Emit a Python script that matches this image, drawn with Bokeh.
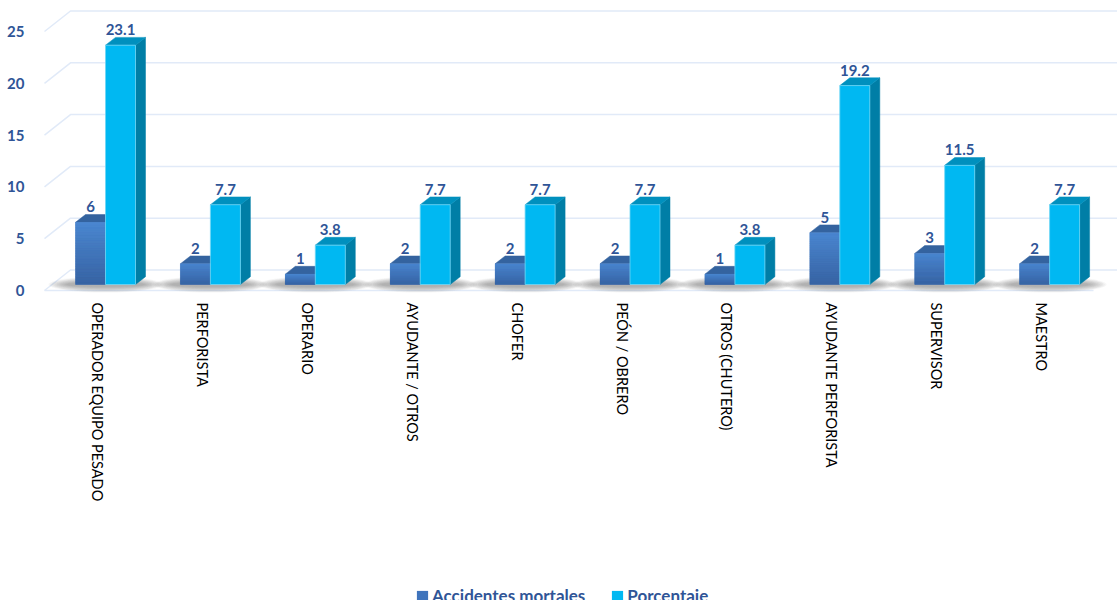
import math
from bokeh.plotting import figure
from bokeh.layouts import column
from bokeh.embed import file_html
from bokeh.resources import INLINE
from bokeh.core.properties import value
from bokeh.models import FixedTicker, Legend, LegendItem

categories = ["OPERADOR EQUIPO PESADO", "PERFORISTA", "OPERARIO", "AYUDANTE / OTROS", "CHOFER",
              "PEÓN / OBRERO", "OTROS (CHUTERO)", "AYUDANTE PERFORISTA", "SUPERVISOR", "MAESTRO"]
accidentes = [6, 2, 1, 2, 2, 2, 1, 5, 3, 2]
porcentaje = [23.1, 7.7, 3.8, 7.7, 7.7, 7.7, 3.8, 19.2, 11.5, 7.7]
acc_labels = ["6", "2", "1", "2", "2", "2", "1", "5", "3", "2"]
por_labels = ["23.1", "7.7", "3.8", "7.7", "7.7", "7.7", "3.8", "19.2", "11.5", "7.7"]
y_ticks = [0, 5, 10, 15, 20, 25]
series_names = ["Accidentes mortales", "Porcentaje"]

# pixel scales of the two axes
PX_X = 104.9
PX_Y = 10.36
FRAME_L, FRAME_R, FRAME_T, FRAME_B = 38, 1117, 0, 296
ORIGIN_X, ORIGIN_Y = 97, 290
ux = 1 / PX_X
uy = 1 / PX_Y

TEXT_BLUE = "#2F5597"
LABEL_FONT = value("Lato")
BLUE_MID = "#3F74BC"
CYAN = "#00B8F2"

p = figure(width=1117, height=512, frame_width=FRAME_R - FRAME_L, frame_height=FRAME_B - FRAME_T,
           x_range=((FRAME_L - ORIGIN_X) * ux, (FRAME_R - ORIGIN_X) * ux),
           y_range=((ORIGIN_Y - FRAME_B) * uy, (ORIGIN_Y - FRAME_T) * uy),
           output_backend="svg", toolbar_location=None,
           min_border_left=FRAME_L, min_border_top=0, min_border_right=0, min_border_bottom=0,
           outline_line_color=None, background_fill_color="white", border_fill_color="white")
p.grid.visible = False

# axes
p.xaxis.ticker = FixedTicker(ticks=list(range(len(categories))))
p.xaxis.major_label_overrides = {i: c for i, c in enumerate(categories)}
p.xaxis.major_label_orientation = -math.pi / 2
p.xaxis.major_label_text_font = "Lato"
p.xaxis.major_label_text_font_size = "14.5px"
p.xaxis.major_label_text_color = "#000000"
p.xaxis.major_label_standoff = 0
p.yaxis.ticker = FixedTicker(ticks=y_ticks)
p.yaxis.major_label_text_font = "Lato"
p.yaxis.major_label_text_font_style = "bold"
p.yaxis.major_label_text_font_size = "15px"
p.yaxis.major_label_text_color = TEXT_BLUE
p.yaxis.major_label_standoff = 8
for ax in (p.xaxis, p.yaxis):
    ax.axis_line_color = None
    ax.major_tick_line_color = None
    ax.minor_tick_line_color = None

# 3D wall lines: front-left corner, back-left corner, then on to the right edge
x_front = (44 - ORIGIN_X) * ux
x_back = (70 - ORIGIN_X) * ux
x_end = (FRAME_R - ORIGIN_X) * ux
wall_dy = 20.5 * uy
p.multi_line(xs=[[x_front, x_back, x_end] for _ in y_ticks],
             ys=[[t, t + wall_dy, t + wall_dy] for t in y_ticks],
             line_color="#E1EAF8", line_width=1.5)
p.line(x=[x_front, (1093 - ORIGIN_X) * ux], y=[0, 0], line_color="#E1EAF8", line_width=1.5)

n = len(categories)
bar_shift = 8 * ux
bar_w = 30 * ux
base = 6 * uy
dx = 10 * ux
dy = 7.8 * uy

# floor shadows
layers = 12
for k in range(layers):
    f = k / (layers - 1)
    p.ellipse(x=[i + bar_shift for i in range(n)], y=[base] * n,
              width=(114 - 36 * f) * ux, height=(16 - 11 * f) * uy,
              fill_color="#666666", fill_alpha=0.05, line_color=None)

xc = [i + bar_shift for i in range(n)]
tops_a = [v + base for v in accidentes]
tops_p = [v + base for v in porcentaje]

# Accidentes mortales: top face, solid backing, front with vertical gradient
p.patches(xs=[[x - bar_w, x, x + dx, x - bar_w + dx] for x in xc],
          ys=[[t, t, t + dy, t + dy] for t in tops_a],
          fill_color="#34639F", line_color="#34639F", line_width=0.5)
p.quad(left=[x - bar_w for x in xc], right=xc, bottom=[base] * n, top=tops_a,
       fill_color=BLUE_MID, line_color=None)
steps = 24
c_top = (74, 134, 208)
c_bot = (56, 100, 163)
for s in range(steps):
    t = s / (steps - 1)
    col = "#%02x%02x%02x" % tuple(round(c_bot[j] + (c_top[j] - c_bot[j]) * t) for j in range(3))
    p.quad(left=[x - bar_w for x in xc], right=xc,
           bottom=[base + v * s / steps for v in accidentes],
           top=[base + v * (s + 1) / steps for v in accidentes],
           fill_color=col, line_color=col, line_width=0.3)

# Porcentaje: side, top, front
p.patches(xs=[[x + bar_w, x + bar_w + dx, x + bar_w + dx, x + bar_w] for x in xc],
          ys=[[base, base + dy, t + dy, t] for t in tops_p],
          fill_color="#007EA6", line_color="#007EA6", line_width=0.5)
p.patches(xs=[[x, x + bar_w, x + bar_w + dx, x + dx] for x in xc],
          ys=[[t, t, t + dy, t + dy] for t in tops_p],
          fill_color="#0090BE", line_color="#0090BE", line_width=0.5)
p.quad(left=xc, right=[x + bar_w for x in xc], bottom=[base] * n, top=tops_p,
       fill_color=CYAN, line_color="#6FD6F5", line_width=0.8)

# value labels
label_style = dict(text_font=LABEL_FONT, text_font_style="bold", text_font_size="15px",
                   text_color=TEXT_BLUE, text_align="center", text_baseline="middle", y_offset=-15.5)
p.text(x=[x - bar_w / 2 for x in xc], y=tops_a, text=acc_labels, **label_style)
p.text(x=[x + bar_w / 2 for x in xc], y=tops_p, text=por_labels, **label_style)

# legend strip under the chart: its swatch glyphs lie outside the strip's own ranges
strip = figure(width=1117, height=96, x_range=(0, 1), y_range=(0, 1),
               output_backend="svg", toolbar_location=None,
               min_border_left=0, min_border_top=0, min_border_right=0, min_border_bottom=0,
               outline_line_color=None, background_fill_color="white", border_fill_color="white")
strip.axis.visible = False
strip.grid.visible = False
r_blue = strip.quad(left=[2], right=[3], bottom=[2], top=[3], fill_color=BLUE_MID, line_color=None)
r_cyan = strip.quad(left=[2], right=[3], bottom=[2], top=[3], fill_color=CYAN, line_color=None)
legend = Legend(items=[LegendItem(label=series_names[0], renderers=[r_blue]),
                       LegendItem(label=series_names[1], renderers=[r_cyan])],
                orientation="horizontal", location=(377, -6),
                glyph_width=14, glyph_height=14, label_standoff=3, spacing=25,
                padding=0, margin=0, border_line_color=None, background_fill_alpha=0,
                label_text_font="Lato", label_text_font_style="bold", label_text_font_size="17px",
                label_text_color=TEXT_BLUE)
strip.add_layout(legend, "center")

open("out.html", "w").write(file_html(column(p, strip, spacing=0), INLINE))
